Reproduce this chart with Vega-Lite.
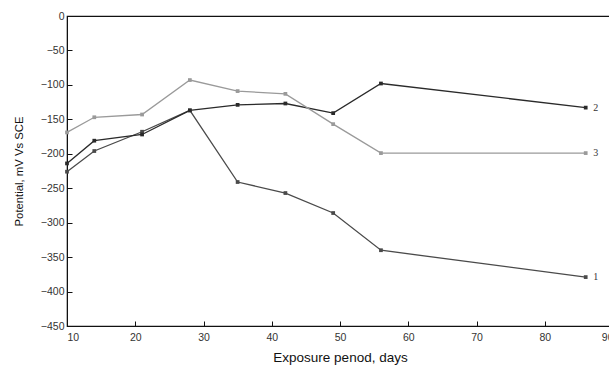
{
  "$schema": "https://vega.github.io/schema/vega-lite/v6.json",
  "autosize": {"type": "none"},
  "width": 546,
  "height": 310,
  "padding": {"left": 67, "top": 16, "right": 0, "bottom": 42},
  "background": "white",
  "config": {
    "view": {"stroke": "#111", "strokeWidth": 1.2},
    "font": "Liberation Sans",
    "axis": {"grid": false, "domainColor": "#111", "tickColor": "#111", "labelColor": "#333", "titleColor": "#111", "labelFont": "Liberation Sans", "titleFont": "Liberation Sans", "titleFontWeight": "normal"}
  },
  "data": {"values": [
    {"series": "1", "day": 10, "value": -226},
    {"series": "1", "day": 14, "value": -196},
    {"series": "1", "day": 21, "value": -168},
    {"series": "1", "day": 28, "value": -137},
    {"series": "1", "day": 35, "value": -241},
    {"series": "1", "day": 42, "value": -257},
    {"series": "1", "day": 49, "value": -286},
    {"series": "1", "day": 56, "value": -340},
    {"series": "1", "day": 86, "value": -379},
    {"series": "2", "day": 10, "value": -214},
    {"series": "2", "day": 14, "value": -181},
    {"series": "2", "day": 21, "value": -172},
    {"series": "2", "day": 28, "value": -137},
    {"series": "2", "day": 35, "value": -129},
    {"series": "2", "day": 42, "value": -127},
    {"series": "2", "day": 49, "value": -141},
    {"series": "2", "day": 56, "value": -98},
    {"series": "2", "day": 86, "value": -133},
    {"series": "3", "day": 10, "value": -169},
    {"series": "3", "day": 14, "value": -147},
    {"series": "3", "day": 21, "value": -143},
    {"series": "3", "day": 28, "value": -93},
    {"series": "3", "day": 35, "value": -109},
    {"series": "3", "day": 42, "value": -113},
    {"series": "3", "day": 49, "value": -157},
    {"series": "3", "day": 56, "value": -199},
    {"series": "3", "day": 86, "value": -199}
  ]},
  "encoding": {
    "x": {"field": "day", "type": "quantitative", "scale": {"domain": [10, 90], "nice": false},
      "axis": {"values": [10, 20, 30, 40, 50, 60, 70, 80, 90], "tickSize": -5, "labelPadding": 11, "labelFontSize": 10.5, "title": "Exposure penod, days", "titleFontSize": 13.5, "titlePadding": 8}},
    "y": {"field": "value", "type": "quantitative", "scale": {"domain": [-450, 0], "nice": false},
      "axis": {"values": [0, -50, -100, -150, -200, -250, -300, -350, -400, -450], "tickSize": -5, "labelPadding": 8, "labelFontSize": 10.5, "title": "Potential, mV Vs SCE", "titleFontSize": 11.3, "titlePadding": 16}},
    "color": {"field": "series", "type": "nominal", "scale": {"domain": ["1", "2", "3"], "range": ["#4a4a4a", "#2a2a2a", "#9a9a9a"]}, "legend": null}
  },
  "layer": [
    {"mark": {"type": "line", "strokeWidth": 1.3}, "encoding": {"detail": {"field": "series"}}},
    {"mark": {"type": "point", "shape": "square", "filled": true, "size": 14, "opacity": 1}},
    {"transform": [{"filter": "datum.day == 86"}],
      "mark": {"type": "text", "dx": 10, "align": "center", "baseline": "middle", "fontSize": 10, "font": "Liberation Serif", "color": "#333"},
      "encoding": {"text": {"field": "series"}, "color": {"value": "#333"}}}
  ]
}
